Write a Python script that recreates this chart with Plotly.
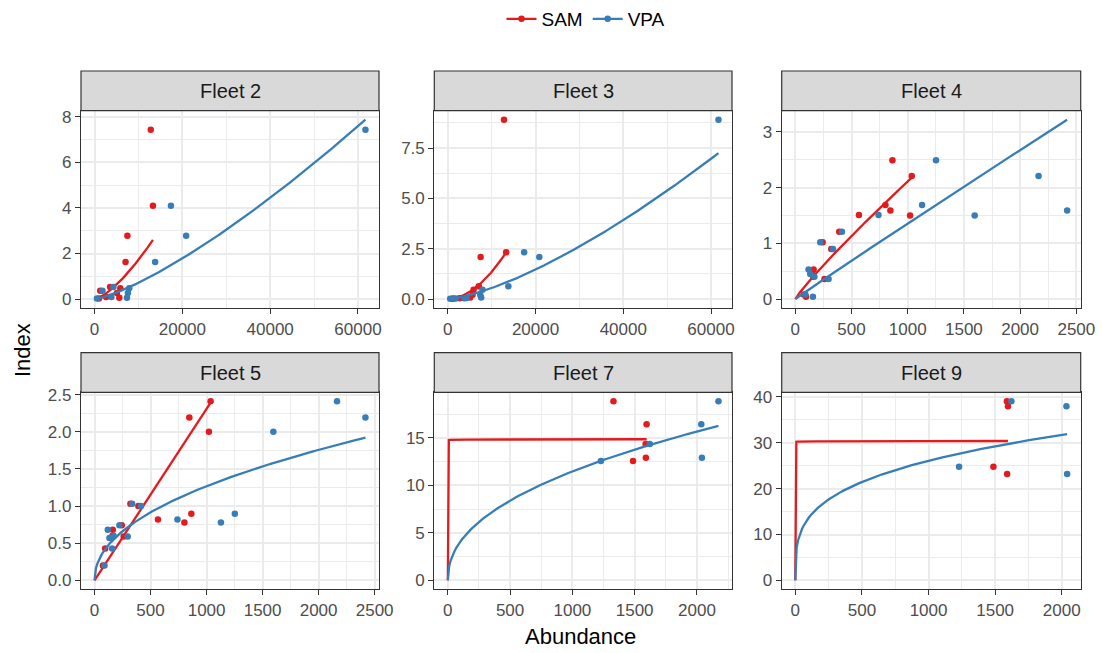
import numpy as np
import plotly.graph_objects as go

W, H = 1102, 653

fleets = ["Fleet 2", "Fleet 3", "Fleet 4", "Fleet 5", "Fleet 7", "Fleet 9"]

# Abundance estimates per year (SAM, VPA); fleets share abundance groups
grpA_sam = [12800, 13300, 7480, 7060, 3540, 5870, 5640, 1290, 990, 2640, 5100]
grpA_vpa = [61700, 17400, 20860, 13800, 4290, 7900, 7380, 1800, 540, 3840, 7600]
grpB_sam = [864, 1036, 802, 846, 566, 1021, 391, 243, 320, 163, 150, 260, 160, 75, 95]
grpB_vpa = [1252, 2164, 1128, 2418, 740, 1596, 415, 222, 335, 118, 133, 296, 170, 89, 157]
grpC_sam = [1330, 1596, 1588, 1590, 1487]
grpC_vpa = [2173, 2035, 1622, 2040, 1229]

# Survey index per fleet (same order as abundance group)
idx_f2 = [7.44, 4.10, 2.78, 1.63, 0.53, 0.47, 0.06, 0.36, 0.02, 0.09, 0.26]
idx_f3 = [8.91, 2.32, 2.09, 0.63, 0.05, 0.46, 0.21, 0.03, 0.02, 0.04, 0.08]
idx_f4 = [2.49, 2.21, 1.69, 1.59, 1.51, 1.50, 1.21, 1.02, 0.90, 0.53, 0.45, 0.36, 0.40, 0.08, 0.04]
idx_f5 = [0.895, 2.41, 0.78, 2.19, 0.82, 2.00, 1.00, 0.74, 1.03, 0.68, 0.57, 0.59, 0.60, 0.20, 0.43]
idx_f7 = [18.85, 16.44, 14.34, 12.90, 12.56]
idx_f9 = [None, 37.98, 39.07, 23.20, 24.78]

# Fitted power curves: index = end * (N / Nmax) ** b
fit_end_sam = [2.60, 2.32, 2.18, 2.39, 14.85, 30.4]
fit_b_sam = [1.45, 1.90, 0.90, 1.00, 0.001, 0.001]
fit_end_vpa = [7.88, 7.25, 3.22, 1.92, 16.26, 31.9]
fit_b_vpa = [1.32, 1.42, 0.98, 0.47, 0.45, 0.282]

# Tick breaks
x_ticks = [[0, 20000, 40000, 60000], [0, 20000, 40000, 60000],
           [0, 500, 1000, 1500, 2000, 2500], [0, 500, 1000, 1500, 2000, 2500],
           [0, 500, 1000, 1500, 2000], [0, 500, 1000, 1500, 2000]]
y_ticks = [[0, 2, 4, 6, 8], [0, 2.5, 5, 7.5], [0, 1, 2, 3],
           [0, 0.5, 1, 1.5, 2, 2.5], [0, 5, 10, 15], [0, 10, 20, 30, 40]]
y_labels = [["0", "2", "4", "6", "8"], ["0.0", "2.5", "5.0", "7.5"], ["0", "1", "2", "3"],
            ["0.0", "0.5", "1.0", "1.5", "2.0", "2.5"], ["0", "5", "10", "15"],
            ["0", "10", "20", "30", "40"]]

series = ["SAM", "VPA"]
colors = {"SAM": "#E41A1C", "VPA": "#377EB8"}

groups = [(grpA_sam, grpA_vpa), (grpA_sam, grpA_vpa), (grpB_sam, grpB_vpa),
          (grpB_sam, grpB_vpa), (grpC_sam, grpC_vpa), (grpC_sam, grpC_vpa)]
indices = [idx_f2, idx_f3, idx_f4, idx_f5, idx_f7, idx_f9]

# layout geometry (pixels)
col_x = [(81, 379), (434.3, 732), (781.7, 1080.7)]
row_strip = [(71, 110.7), (352.7, 392.3)]
row_plot = [(110.7, 308), (392.3, 589.3)]

FONT = "Liberation Sans, Arial"
fig = go.Figure()
shapes = []
annotations = []
grid_c = "#EBEBEB"
dark = "#333333"

for i, name in enumerate(fleets):
    r, c = divmod(i, 3)
    ax = "" if i == 0 else str(i + 1)
    sam_x, vpa_x = groups[i]
    idx = indices[i]
    allx, ally = [0.0], [0.0]
    for s, xs, end, b in [("SAM", sam_x, fit_end_sam[i], fit_b_sam[i]),
                          ("VPA", vpa_x, fit_end_vpa[i], fit_b_vpa[i])]:
        px = [x for x, y in zip(xs, idx) if y is not None]
        py = [y for y in idx if y is not None]
        xmax = max(px)
        gx = np.linspace(0, xmax, 201)
        gy = end * (gx / xmax) ** b
        fig.add_trace(go.Scatter(x=gx, y=gy, mode="lines",
                                 line=dict(color=colors[s], width=2.3),
                                 xaxis="x" + ax, yaxis="y" + ax,
                                 showlegend=False, hoverinfo="skip"))
        fig.add_trace(go.Scatter(x=px, y=py, mode="markers",
                                 marker=dict(color=colors[s], size=6.5),
                                 xaxis="x" + ax, yaxis="y" + ax,
                                 showlegend=False))
        allx += list(px) + list(gx)
        ally += list(py) + list(gy)
    xlo, xhi = min(allx), max(allx)
    ylo, yhi = min(ally), max(ally)
    xp, yp = 0.05 * (xhi - xlo), 0.05 * (yhi - ylo)
    x0, x1 = col_x[c]
    p0, p1 = row_plot[r]
    xt = x_ticks[i]
    yt = y_ticks[i]
    common = dict(
        showgrid=True, gridcolor=grid_c, gridwidth=1.8, zeroline=False,
        showline=True, mirror=True, linecolor=dark, linewidth=1.2,
        ticks="outside", ticklen=5, tickcolor=dark, tickwidth=1.2,
        tickfont=dict(size=17, color="#4D4D4D", family=FONT),
        automargin=False,
    )
    fig.layout["xaxis" + ax] = dict(
        domain=[x0 / W, x1 / W], anchor="y" + ax, range=[xlo - xp, xhi + xp],
        tickmode="array", tickvals=xt, ticktext=[str(v) for v in xt],
        minor=dict(tickmode="linear", tick0=0, dtick=(xt[1] - xt[0]) / 2,
                   showgrid=True, gridcolor=grid_c, gridwidth=0.9, ticks=""),
        **common,
    )
    fig.layout["yaxis" + ax] = dict(
        domain=[1 - p1 / H, 1 - p0 / H], anchor="x" + ax, range=[ylo - yp, yhi + yp],
        tickmode="array", tickvals=yt, ticktext=y_labels[i],
        minor=dict(tickmode="linear", tick0=0, dtick=(yt[1] - yt[0]) / 2,
                   showgrid=True, gridcolor=grid_c, gridwidth=0.9, ticks=""),
        **common,
    )
    s0, s1 = row_strip[r]
    shapes.append(dict(type="rect", xref="paper", yref="paper",
                       x0=x0 / W, x1=x1 / W, y0=1 - s1 / H, y1=1 - s0 / H,
                       fillcolor="#D9D9D9", line=dict(color=dark, width=1.2),
                       layer="above"))
    annotations.append(dict(text=name, xref="paper", yref="paper",
                            x=(x0 + x1) / 2 / W, y=1 - (s0 + s1) / 2 / H,
                            showarrow=False, xanchor="center", yanchor="middle",
                            font=dict(size=20, color="#1A1A1A", family=FONT)))

# legend entries
for s in series:
    fig.add_trace(go.Scatter(x=[None], y=[None], mode="lines+markers", name=s,
                             line=dict(color=colors[s], width=2.3),
                             marker=dict(color=colors[s], size=6.5),
                             xaxis="x", yaxis="y", showlegend=True))

annotations.append(dict(text="Abundance", xref="paper", yref="paper",
                        x=580 / W, y=1 - 636 / H, showarrow=False,
                        xanchor="center", yanchor="middle",
                        font=dict(size=22, color="#000000", family=FONT)))
annotations.append(dict(text="Index", xref="paper", yref="paper",
                        x=22 / W, y=1 - 350 / H, showarrow=False, textangle=-90,
                        xanchor="center", yanchor="middle",
                        font=dict(size=22, color="#000000", family=FONT)))

fig.update_layout(
    width=W, height=H, margin=dict(l=0, r=0, t=0, b=0, autoexpand=False),
    paper_bgcolor="white", plot_bgcolor="white",
    shapes=shapes, annotations=annotations,
    legend=dict(orientation="h", x=586 / W, xanchor="center", y=1.0,
                yanchor="top", font=dict(size=19, color="#000000", family=FONT),
                itemwidth=30, bgcolor="rgba(0,0,0,0)"),
    font=dict(family=FONT),
)

fig.write_html("out.html", config={"displayModeBar": False},
               post_script="document.body.style.margin='0';document.body.style.overflow='hidden';")
